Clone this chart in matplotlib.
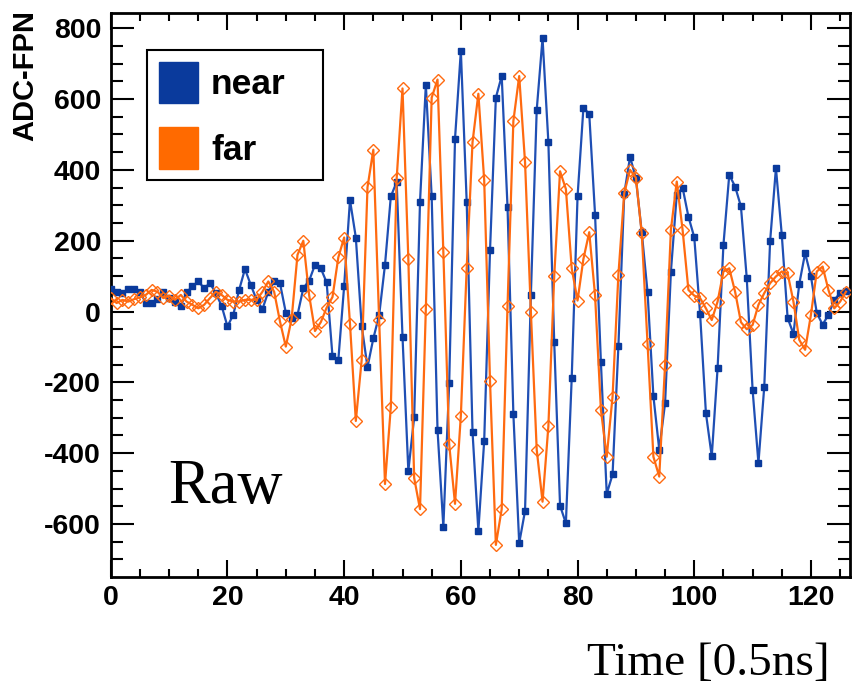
import numpy as np
import matplotlib.pyplot as plt
from matplotlib.patches import Patch
from matplotlib.ticker import MultipleLocator

plt.rcParams['axes.unicode_minus'] = False

# --- Dados (amostras 0..126) ---
near = [63, 56, 52, 63, 64, 56, 24, 24, 35, 54,
        37, 28, 16, 54, 71, 85, 66, 80, 52, 16,
        -42, -9, 61, 120, 75, 33, 7, 56, 85, 80,
        -3, -18, -10, 66, 87, 132, 122, 82, -126, -137,
        72, 315, 209, -40, -157, -76, -10, 132, 325, 366,
        -71, -450, -299, 310, 640, 325, -334, -608, -202, 488,
        736, 310, -340, -619, -365, 173, 604, 665, 295, -289,
        -654, -563, 46, 569, 772, 478, -86, -548, -598, -187,
        325, 574, 559, 274, -142, -515, -460, -98, 332, 437,
        376, 224, 54, -239, -390, -259, 113, 330, 350, 268,
        210, -6, -287, -409, -160, 188, 386, 353, 297, 94,
        -221, -428, -212, 198, 405, 217, -18, -63, 78, 165,
        99, -4, -37, -9, 33, 52, 57]

far = [38, 24, 33, 28, 35, 40, 47, 61, 56, 38,
       45, 33, 47, 28, 19, 9, 19, 38, 56, 47,
       33, 28, 28, 33, 33, 33, 56, 85, 56, -28,
       -99, -20, 160, 200, 46, -55, -30, 11, 41, 153,
       209, -35, -309, -137, 351, 457, -25, -487, -269, 376,
       630, 148, -470, -558, 8, 604, 655, 168, -375, -543,
       -294, 122, 478, 615, 371, -197, -659, -558, 16, 538,
       665, 422, 0, -390, -537, -324, 99, 396, 346, 122,
       31, 148, 224, 46, -277, -410, -240, 104, 334, 400,
       378, 221, -92, -410, -466, -150, 231, 367, 231, 61,
       45, 38, 9, -24, 28, 113, 122, 56, -30, -50,
       -38, 19, 52, 80, 99, 113, 108, 28, -80, -108,
       -9, 113, 127, 61, 9, 28, 56]

t = np.arange(len(near))

cor_near = '#1f4fb4'
cor_far = '#ff6a10'

fig = plt.figure(figsize=(8.52, 6.85), dpi=100)
ax = fig.add_axes([0.130, 0.158, 0.8677, 0.823])

ax.plot(t, near, '-', color=cor_near, lw=1.6, marker='s', ms=4,
        mfc='#0a3a9c', mec='#0a3a9c', zorder=3)
ax.plot(t, far, '-', color=cor_far, lw=1.6, marker='D', ms=6.5,
        mfc='none', mec=cor_far, mew=1.0, zorder=4)

ax.set_xlim(0, 126.7)
ax.set_ylim(-749, 843)

# --- Eixos no estilo ROOT ---
ax.xaxis.set_major_locator(MultipleLocator(20))
ax.xaxis.set_minor_locator(MultipleLocator(5))
ax.yaxis.set_major_locator(MultipleLocator(200))
ax.yaxis.set_minor_locator(MultipleLocator(50))
ax.tick_params(axis='both', which='both', direction='in', top=True, right=True, width=1.5)
ax.tick_params(axis='x', which='major', length=12, pad=6)
ax.tick_params(axis='x', which='minor', length=6)
ax.tick_params(axis='y', which='major', length=16.5, pad=7)
ax.tick_params(axis='y', which='minor', length=8.5)
for lab in ax.get_xticklabels() + ax.get_yticklabels():
    lab.set_fontfamily('Liberation Sans')
    lab.set_fontweight('bold')
    lab.set_fontsize(20.5)
for s in ax.spines.values():
    s.set_linewidth(2)

# --- Legenda ---
handles = [Patch(facecolor='#0a3a9c', edgecolor='#0a3a9c', label='near'),
           Patch(facecolor='#ff6a00', edgecolor='#ff6a00', label='far')]
leg = ax.legend(handles=handles, loc='upper left',
                bbox_to_anchor=(0.049, 0.934, 0.238, 0.0), mode='expand',
                borderaxespad=0, fancybox=False, framealpha=1, edgecolor='black',
                prop={'family': 'Liberation Sans', 'weight': 'bold', 'size': 25.5},
                handlelength=1.1, handleheight=1.42, labelspacing=0.68,
                borderpad=0.33, handletextpad=0.38)
leg.get_frame().set_linewidth(1.5)

ax.text(9.8, -540, 'Raw', fontfamily='Liberation Serif', fontsize=45, va='baseline')
fig.text(0.974, 0.015, 'Time [0.5ns]', fontfamily='Liberation Serif', fontsize=34,
         ha='right', va='baseline')
fig.text(0.03, 0.985, 'ADC-FPN', fontfamily='Liberation Sans', fontweight='bold',
         fontsize=21, rotation=90, ha='center', va='top')

fig.savefig('out.png', dpi=100)
